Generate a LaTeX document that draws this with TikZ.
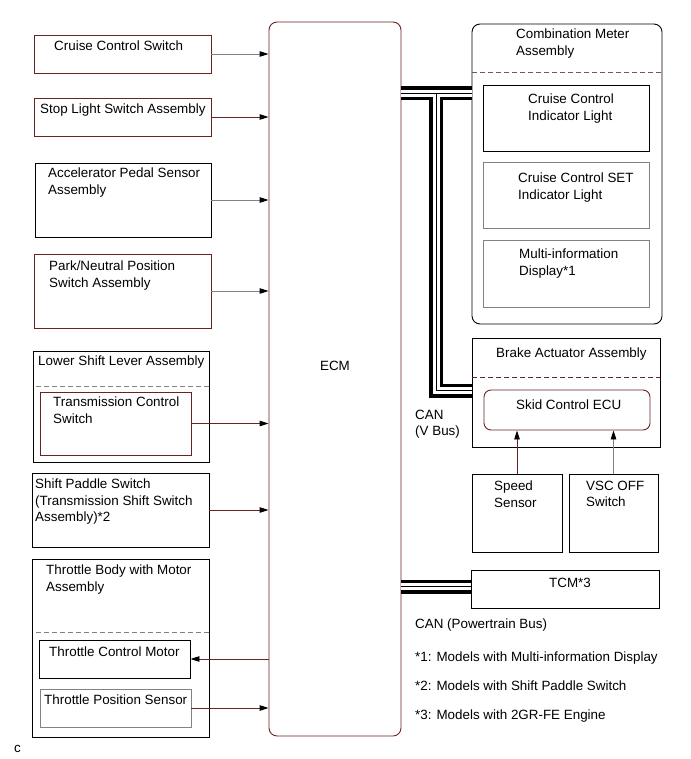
\documentclass[tikz,border=0pt]{standalone}
\usepackage{fontspec}
\setmainfont{Liberation Sans}
\usetikzlibrary{arrows.meta,fit}
\definecolor{dred}{RGB}{105,35,35}
\definecolor{gr}{RGB}{130,130,130}
\begin{document}
\begin{tikzpicture}[x=1pt,y=-1pt,
  box/.style={draw=black,line width=0.9pt,inner sep=0pt},
  rbox/.style={box,draw=dred},
  gbox/.style={box,draw=gr},
  lbl/.style={anchor=north west,inner sep=0pt,align=left,font=\fontsize{13.4}{16.7}\selectfont},
  arr/.style={line width=0.9pt,-{Triangle[length=9pt,width=5.5pt,color=black]}},
  dsh/.style={line width=0.9pt,dash pattern=on 5pt off 3pt}
]
\useasboundingbox (0,0) rectangle (690,759);

% ECM
\node[rbox,rounded corners=8pt,fit={(269,22)(401,736)}] (ecm) {};
\node[anchor=base,inner sep=0pt,font=\fontsize{13.4}{16.7}\selectfont] (ecmt) at (335,370) {ECM};

% left boxes
\node[rbox,fit={(34,35)(211,73)}] (ccs) {};
\node[lbl] (ccst) at (54,40.5) {Cruise Control Switch};
\node[rbox,fit={(34,98)(211,136)}] (sls) {};
\node[lbl] (slst) at (40,103.5) {Stop Light Switch Assembly};
\node[box,fit={(35,163)(211,237)}] (aps) {};
\node[lbl] (apst) at (48,167.5) {Accelerator Pedal Sensor\\Assembly};
\node[rbox,fit={(34,254)(211,328)}] (pnp) {};
\node[lbl] (pnpt) at (49,260.5) {Park/Neutral Position\\Switch Assembly};

\node[box,fit={(33,351)(209,462)}] (lsl) {};
\node[lbl] (lslt) at (38,355.5) {Lower Shift Lever Assembly};
\draw[dsh,gr] (36,386) -- (209,386);
\node[rbox,fit={(40,392)(191,455)}] (tcs) {};
\node[lbl] (tcst) at (53,396.5) {Transmission Control\\Switch};

\node[box,fit={(32,473)(209,547)}] (sps) {};
\node[lbl] (spst) at (35,478.5) {Shift Paddle Switch\\(Transmission Shift Switch\\Assembly)*2};

\node[box,fit={(32,559)(209,737)}] (tb) {};
\node[lbl] (tbt) at (46,564.5) {Throttle Body with Motor\\Assembly};
\draw[dsh,gr] (36,632) -- (209,632);
\node[box,fit={(39,640)(190,678)}] (tcm1) {};
\node[lbl] (tcm1t) at (49,646.5) {Throttle Control Motor};
\node[gbox,fit={(40,689)(191,727)}] (tps) {};
\node[lbl] (tpst) at (44,694.5) {Throttle Position Sensor};

\node[anchor=base west,inner sep=0pt,font=\fontsize{13.4}{16.7}\selectfont] (cmark) at (14,752) {c};

% left arrows
\draw[arr,gr] (ccs.east) -- (ccs.east -| ecm.west);
\draw[arr,dred] (sls.east) -- (sls.east -| ecm.west);
\draw[arr,gr] (aps.east) -- (aps.east -| ecm.west);
\draw[arr,gr] (pnp.east) -- (pnp.east -| ecm.west);
\draw[arr,dred] (tcs.east) -- (tcs.east -| ecm.west);
\draw[arr,dred] (sps.east) -- (sps.east -| ecm.west);
\draw[arr,dred] (tcm1.east -| ecm.west) -- (tcm1.east);
\draw[arr,dred] (tps.east) -- (tps.east -| ecm.west);

% combination meter
\node[box,rounded corners=8pt,fit={(472,24)(662,324)}] (cm) {};
\node[lbl] (cmt) at (516,28.5) {Combination Meter\\Assembly};
\draw[dsh,dred!80] (472,72) -- (662,72);
\node[box,fit={(483,85)(649,151)}] (cci) {};
\node[lbl] (ccit) at (528,93.5) {Cruise Control\\Indicator Light};
\node[gbox,fit={(483,162)(649,228)}] (csi) {};
\node[lbl] (csit) at (518,172.5) {Cruise Control SET\\Indicator Light};
\node[gbox,fit={(483,240)(649,307)}] (mid) {};
\node[lbl] (midt) at (519,248.5) {Multi-information\\Display*1};

% brake actuator
\node[box,fit={(472,338)(660,447)}] (ba) {};
\node[lbl] (bat) at (496,347.5) {Brake Actuator Assembly};
\draw[dsh,dred] (472,377) -- (660,377);
\node[rbox,rounded corners=7pt,fit={(484,390)(650,430)}] (skid) {};
\node[lbl] (skidt) at (516,399.5) {Skid Control ECU};
\node[lbl] (vbus) at (415,409.5) {CAN\\(V Bus)};

\node[box,fit={(472,474)(562,552)}] (ss) {};
\node[lbl] (sst) at (494,480.5) {Speed\\Sensor};
\node[box,fit={(569,474)(658,552)}] (vsc) {};
\node[lbl] (vsct) at (586,480.5) {VSC OFF\\Switch};
\draw[arr,dred] (ss.north) -- (ss.north |- skid.south);
\draw[arr,gr] (vsc.north) -- (vsc.north |- skid.south);

% TCM
\node[box,fit={(471,570)(659,608)}] (tcm) {};
\node[lbl] (tcmt) at (549,577.5) {TCM*3};
\node[lbl] (pbus) at (415,618.5) {CAN (Powertrain Bus)};
\node[lbl] (n1) at (415,651.5) {*1: Models with Multi-information Display};
\node[lbl] (n2) at (415,680.5) {*2: Models with Shift Paddle Switch};
\node[lbl] (n3) at (415,709.5) {*3: Models with 2GR-FE Engine};

% CAN buses
\coordinate (vbT) at (436,93.5);
\coordinate (vbB) at (436,390.5);
\coordinate (pb) at (436,586.5);
\draw[line width=14pt,black] (vbT -| ecm.east) -- (vbT -| cm.west) (vbT) -- (vbB) -- (vbB -| ba.west) (pb -| ecm.east) -- (pb -| tcm.west);
\draw[line width=7pt,white] (vbT -| ecm.east) -- (vbT -| cm.west) (vbT) -- (vbB) -- (vbB -| ba.west) (pb -| ecm.east) -- (pb -| tcm.west);
\draw[line width=0.7pt,black] (vbT -| ecm.east) -- (vbT -| cm.west) (vbT) -- (vbB) -- (vbB -| ba.west) (pb -| ecm.east) -- (pb -| tcm.west);
\end{tikzpicture}
\end{document}
